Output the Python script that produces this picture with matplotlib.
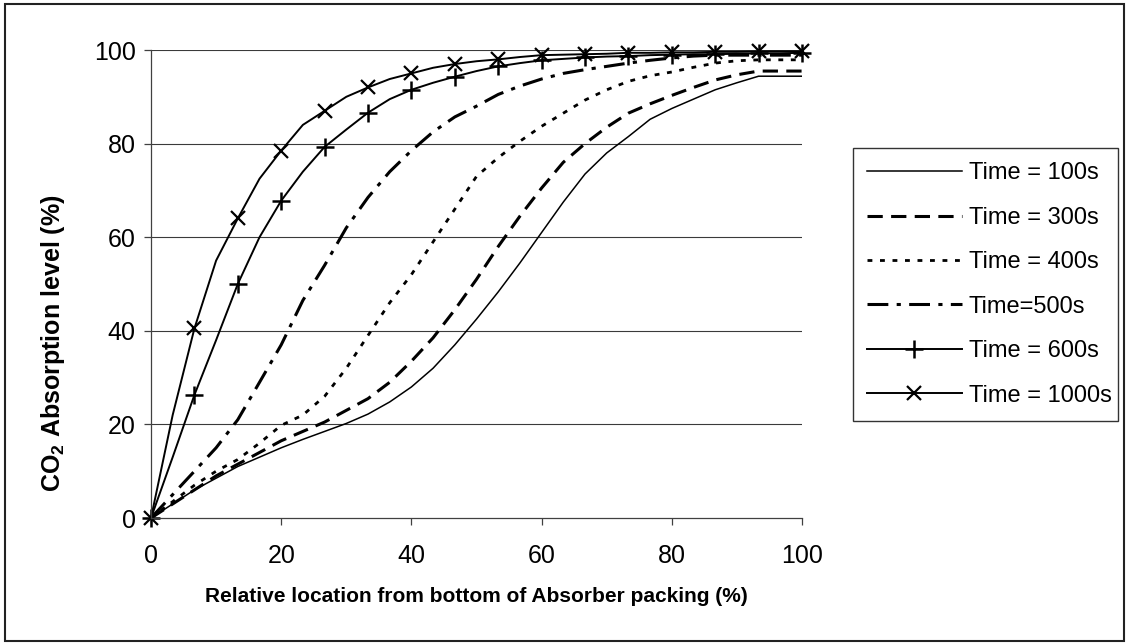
import matplotlib

matplotlib.use("Agg")
import matplotlib.pyplot as plt  # noqa: E402
from matplotlib.patches import Rectangle  # noqa: E402

plt.rcParams["font.family"] = ["Liberation Sans", "DejaVu Sans"]
plt.rcParams["mathtext.fontset"] = "custom"
plt.rcParams["mathtext.rm"] = "Liberation Sans"
plt.rcParams["mathtext.bf"] = "Liberation Sans:bold"
plt.rcParams["lines.scale_dashes"] = False

# relative location (%) - 31 points, markers shown on every other one
LOC = [0, 3.33, 6.67, 10, 13.33, 16.67, 20, 23.33, 26.67, 30, 33.33,
       36.67, 40, 43.33, 46.67, 50, 53.33, 56.67, 60, 63.33, 66.67,
       70, 73.33, 76.67, 80, 83.33, 86.67, 90, 93.33, 96.67, 100]

T100 = [0, 3, 6, 8.5, 11, 13, 15, 16.8, 18.5, 20.2, 22.2,
        24.8, 28, 32, 37, 42.5, 48.3, 54.5, 61, 67.5, 73.5,
        78, 81.5, 85.2, 87.5, 89.5, 91.5, 93, 94.4, 94.4, 94.4]
T300 = [0, 3, 6, 9, 11.5, 14, 16.5, 18.5, 20.5, 23, 25.5,
        29, 33.5, 38.5, 44.5, 51, 58, 64.5, 70.5, 76, 80,
        83.5, 86.5, 88.5, 90.3, 92, 93.6, 94.7, 95.5, 95.5, 95.5]
T400 = [0, 3.5, 7, 10, 12.5, 16, 19.8, 22, 26, 32, 39,
        46, 52, 59, 66, 73, 77, 80.5, 83.7, 86.5, 89.3,
        91.5, 93.3, 94.5, 95.3, 96.3, 97.2, 97.7, 97.9, 97.9, 97.9]
T500 = [0, 5, 10, 15, 21, 29, 37, 46.5, 54, 62, 68.5,
        74, 78.5, 82.5, 85.7, 88, 90.5, 92.3, 93.8, 95, 95.8,
        96.5, 97.2, 97.8, 98.3, 98.7, 98.9, 98.9, 98.9, 98.9, 98.9]
T600 = [0, 13, 26.3, 38, 50, 60, 67.8, 74, 79.3, 83, 86.6,
        89.5, 91.5, 93, 94.3, 95.5, 96.5, 97.2, 97.8, 98.1, 98.4,
        98.6, 98.7, 98.9, 99, 99.1, 99.1, 99.2, 99.3, 99.3, 99.4]
T1000 = [0, 22, 40.5, 55, 64, 72.5, 78.5, 84, 87, 90, 92,
         93.8, 95, 96.2, 97, 97.6, 98, 98.5, 98.9, 99, 99.1,
         99.2, 99.4, 99.4, 99.5, 99.5, 99.6, 99.6, 99.7, 99.7, 99.7]

LABELS = ["Time = 100s", "Time = 300s", "Time = 400s", "Time=500s",
          "Time = 600s", "Time = 1000s"]
TICKS = [0, 20, 40, 60, 80, 100]

INK = "black"
AXIS = "#404040"

fig = plt.figure(figsize=(11.28, 6.44), dpi=100)
ax = fig.add_axes([151 / 1128, 1 - 518 / 644, 651 / 1128, 468 / 644])

ax.plot(LOC, T100, color=INK, lw=1.1, label=LABELS[0])
ax.plot(LOC, T300, color=INK, lw=2.2, dashes=(11, 6), label=LABELS[1])
ax.plot(LOC, T400, color=INK, lw=2.0, dashes=(3.5, 5.5), label=LABELS[2])
ax.plot(LOC, T500, color=INK, lw=2.2, dashes=(15, 6, 3, 6), label=LABELS[3])
ax.plot(LOC, T600, color=INK, lw=1.4, marker="+", ms=13, mew=1.8,
        markevery=2, clip_on=False, label=LABELS[4])
ax.plot(LOC, T1000, color=INK, lw=1.4, marker="x", ms=10, mew=1.6,
        markevery=2, clip_on=False, label=LABELS[5])

ax.set_xlim(0, 100)
ax.set_ylim(0, 100)
ax.set_xticks(TICKS)
ax.set_yticks(TICKS)
for v in TICKS[1:]:
    ax.axhline(v, color="#3a3a3a", lw=0.8, zorder=0)
for side in ("top", "right"):
    ax.spines[side].set_visible(False)
for side in ("left", "bottom"):
    ax.spines[side].set_color(AXIS)
    ax.spines[side].set_linewidth(0.9)
ax.tick_params(axis="both", direction="out", length=5, width=0.9,
               color=AXIS, labelsize=18)
ax.tick_params(axis="x", pad=14)
ax.tick_params(axis="y", pad=6)

fig.text(53 / 1128, 1 - 343 / 644, r"CO$_\mathbf{2}$ Absorption level (%)",
         rotation=90, ha="center", va="center", fontsize=18,
         fontweight="bold")
fig.text(476 / 1128, 1 - 597 / 644,
         "Relative location from bottom of Absorber packing (%)",
         ha="center", va="center", fontsize=15, fontweight="bold")

leg = ax.legend(loc="center", bbox_to_anchor=(853 / 1128, 1 - 416 / 644,
                                              265 / 1128, 263 / 644),
                bbox_transform=fig.transFigure, mode="expand",
                fontsize=17, frameon=True, fancybox=False, shadow=False,
                handlelength=4.0, handletextpad=0.3, labelspacing=0.95,
                borderpad=0.6, borderaxespad=0)
leg.get_frame().set_edgecolor("black")
leg.get_frame().set_linewidth(1.0)

fig.add_artist(Rectangle((5 / 1128, 3 / 644), 1119 / 1128, 637 / 644,
                         transform=fig.transFigure, fill=False,
                         edgecolor="#222222", lw=1.5))

fig.savefig("out.png", dpi=100)
